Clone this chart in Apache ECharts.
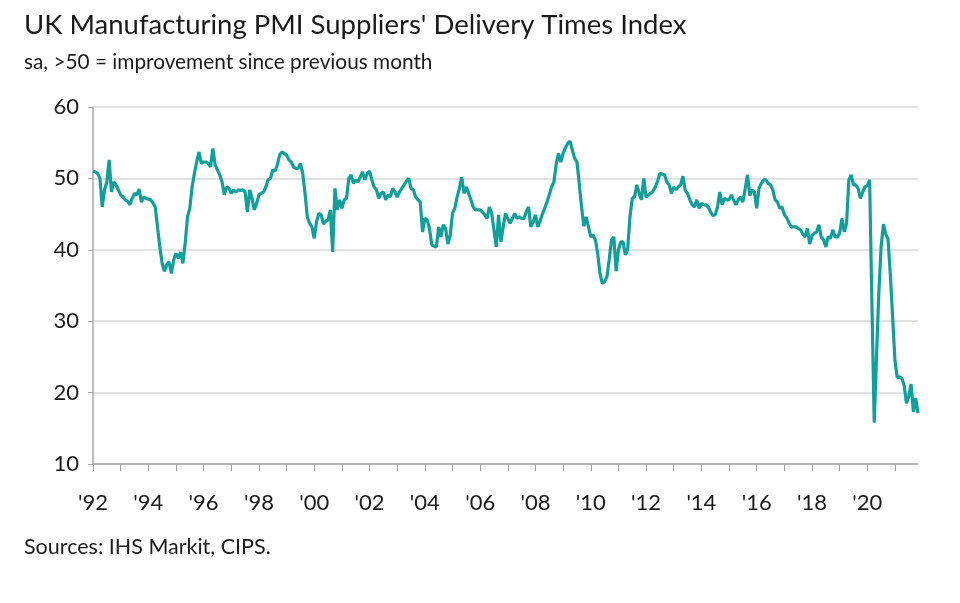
<!DOCTYPE html>
<html>
<head>
<meta charset="utf-8">
<script src="https://cdn.jsdelivr.net/npm/echarts@6/dist/echarts.min.js"></script>
<style>
  html, body { margin: 0; padding: 0; background: #ffffff; }
  #chart { width: 960px; height: 603px; }
</style>
</head>
<body>
<div id="chart"></div>
<script>
// Monthly values, Jan 1992 - Nov 2021 (sa, >50 = improvement)
var startYear = 1992;
var v1992_1996 = [
  51.0, 50.9, 50.7, 50.0, 46.0, 48.4, 49.5, 52.6, 48.1, 49.5, 49.1, 48.4,
  47.7, 47.4, 47.0, 46.8, 46.3, 47.2, 47.9, 47.7, 48.5, 46.7, 47.4, 47.2,
  47.1, 47.0, 46.6, 46.0, 43.2, 40.4, 38.1, 37.0, 37.9, 38.3, 36.7, 38.6,
  39.5, 38.8, 39.7, 38.1, 40.9, 44.6, 45.8, 48.8, 50.7, 52.3, 53.7, 52.1,
  52.3, 52.3, 52.1, 51.6, 54.2, 51.9, 51.2, 50.5, 49.5, 47.7, 48.8, 48.6
];
var v1997_2001 = [
  47.9, 48.4, 48.1, 48.4, 48.3, 48.4, 48.1, 45.3, 48.4, 47.2, 45.6, 46.5,
  47.7, 47.9, 48.1, 48.8, 49.8, 50.0, 51.2, 51.0, 51.9, 53.3, 53.7, 53.5,
  53.3, 52.6, 52.3, 51.6, 51.4, 51.4, 52.1, 50.7, 47.9, 44.6, 43.7, 43.2,
  41.6, 43.9, 45.1, 44.9, 43.6, 44.0, 44.2, 45.6, 39.7, 48.6, 45.6, 47.0,
  45.8, 47.0, 47.2, 50.0, 50.5, 49.3, 49.8, 49.5, 50.2, 50.9, 49.8, 50.7
];
var v2002_2006 = [
  51.0, 49.8, 48.8, 48.4, 47.2, 47.9, 48.1, 47.0, 47.7, 47.4, 48.6, 48.1,
  47.4, 48.1, 48.6, 49.1, 49.6, 50.0, 48.6, 48.4, 47.4, 47.0, 46.7, 42.5,
  44.4, 44.2, 43.0, 40.7, 40.5, 40.4, 43.2, 41.8, 43.5, 43.0, 40.8, 42.0,
  45.1, 45.8, 47.4, 48.6, 50.2, 47.9, 48.8, 47.9, 47.0, 46.0, 45.6, 45.6,
  45.6, 45.3, 44.9, 44.4, 46.0, 45.1, 42.8, 40.4, 44.9, 41.1, 43.2, 45.1
];
var v2007_2011 = [
  44.4, 43.7, 44.4, 45.1, 44.4, 44.6, 44.4, 44.4, 45.3, 46.0, 43.2, 43.9,
  44.9, 43.2, 44.0, 45.0, 45.8, 46.7, 47.7, 48.8, 49.5, 52.0, 53.5, 52.3,
  53.5, 54.3, 54.9, 55.2, 54.0, 52.8, 52.3, 49.3, 46.0, 43.3, 44.6, 43.2,
  41.8, 42.1, 41.4, 39.5, 36.7, 35.3, 35.5, 36.2, 38.6, 41.4, 41.8, 37.0,
  40.0, 41.1, 41.1, 39.3, 40.0, 44.6, 47.2, 47.4, 49.1, 47.9, 47.0, 50.0
];
var v2012_2016 = [
  47.4, 47.7, 47.9, 48.2, 48.8, 49.6, 50.7, 50.6, 50.5, 49.5, 49.1, 47.9,
  48.8, 48.4, 48.8, 49.1, 50.3, 48.3, 47.9, 47.0, 46.3, 46.0, 47.0, 45.8,
  46.5, 46.3, 46.3, 46.0, 45.3, 44.8, 44.9, 46.0, 48.1, 46.3, 47.2, 47.0,
  47.0, 47.7, 47.0, 46.3, 47.0, 47.4, 46.7, 48.5, 50.5, 47.6, 48.4, 48.1,
  45.8, 48.6, 49.3, 49.8, 49.8, 49.3, 49.1, 48.4, 47.0, 46.7, 45.8, 46.0
];
var v2017_2021 = [
  44.9, 44.5, 43.8, 43.2, 43.2, 43.2, 43.0, 42.8, 42.2, 41.8, 43.0, 40.8,
  42.0, 42.3, 42.5, 43.5, 41.8, 41.4, 40.4, 41.8, 41.6, 42.8, 41.8, 41.8,
  42.3, 44.4, 42.5, 43.7, 49.8, 50.5, 49.1, 49.1, 48.6, 47.2, 48.1, 48.8,
  49.0, 49.8, 32.5, 15.8, 25.0, 34.0, 40.5, 43.6, 42.2, 41.5, 36.5, 30.5,
  24.5, 22.1, 22.2, 22.0, 21.0, 18.5, 19.5, 21.2, 17.3, 19.2, 17.1
];
var yTicks = [10, 20, 30, 40, 50, 60];

var values = [].concat(v1992_1996, v1997_2001, v2002_2006, v2007_2011, v2012_2016, v2017_2021);
var categories = [];
for (var k = 0; k < values.length; k++) {
  var yr = startYear + Math.floor(k / 12);
  var mo = (k % 12) + 1;
  categories.push(yr + '-' + (mo < 10 ? '0' + mo : mo));
}

var FONT = 'Lato, "Open Sans", sans-serif';
var chart = echarts.init(document.getElementById('chart'), null, { renderer: 'canvas' });
chart.setOption({
  backgroundColor: '#ffffff',
  animation: false,
  title: [
    {
      text: "UK Manufacturing PMI Suppliers' Delivery Times Index",
      left: 19, top: 6,
      textStyle: { fontFamily: FONT, fontSize: 27.5, fontWeight: 'normal', color: '#1a1a1a' }
    },
    {
      text: 'sa, >50 = improvement since previous month',
      left: 19, top: 47,
      textStyle: { fontFamily: FONT, fontSize: 20.8, fontWeight: 'normal', color: '#1a1a1a' }
    },
    {
      text: 'Sources: IHS Markit, CIPS.',
      left: 19, top: 531,
      textStyle: { fontFamily: FONT, fontSize: 21.5, fontWeight: 'normal', color: '#1a1a1a' }
    }
  ],
  grid: { left: 93, right: 42, top: 107, bottom: 139, containLabel: false },
  xAxis: {
    type: 'category',
    data: categories,
    boundaryGap: false,
    axisLine: { show: true, lineStyle: { color: '#a6a6a6', width: 1.5 } },
    axisTick: {
      show: true, length: 7, lineStyle: { color: '#a6a6a6', width: 1 },
      interval: function (idx) { return idx % 12 === 0; }
    },
    axisLabel: {
      show: true, margin: 28, fontFamily: FONT, fontSize: 22, color: '#1a1a1a',
      interval: function (idx) { return idx % 24 === 0; },
      formatter: function (val) { return "'" + val.substr(2, 2); }
    },
    splitLine: { show: false }
  },
  yAxis: {
    type: 'value',
    min: yTicks[0], max: yTicks[yTicks.length - 1], interval: 10,
    axisLine: { show: true, lineStyle: { color: '#a6a6a6', width: 1.5 } },
    axisTick: { show: true, length: 5, lineStyle: { color: '#a6a6a6' } },
    axisLabel: { fontFamily: FONT, fontSize: 22, color: '#1a1a1a', margin: 14 },
    splitLine: { show: true, lineStyle: { color: '#d9d9d9', width: 1.5 } }
  },
  series: [{
    type: 'line',
    data: values,
    showSymbol: false,
    symbol: 'none',
    smooth: false,
    lineStyle: { color: '#10a09b', width: 3.2 },
    itemStyle: { color: '#10a09b' }
  }]
});
</script>
</body>
</html>
